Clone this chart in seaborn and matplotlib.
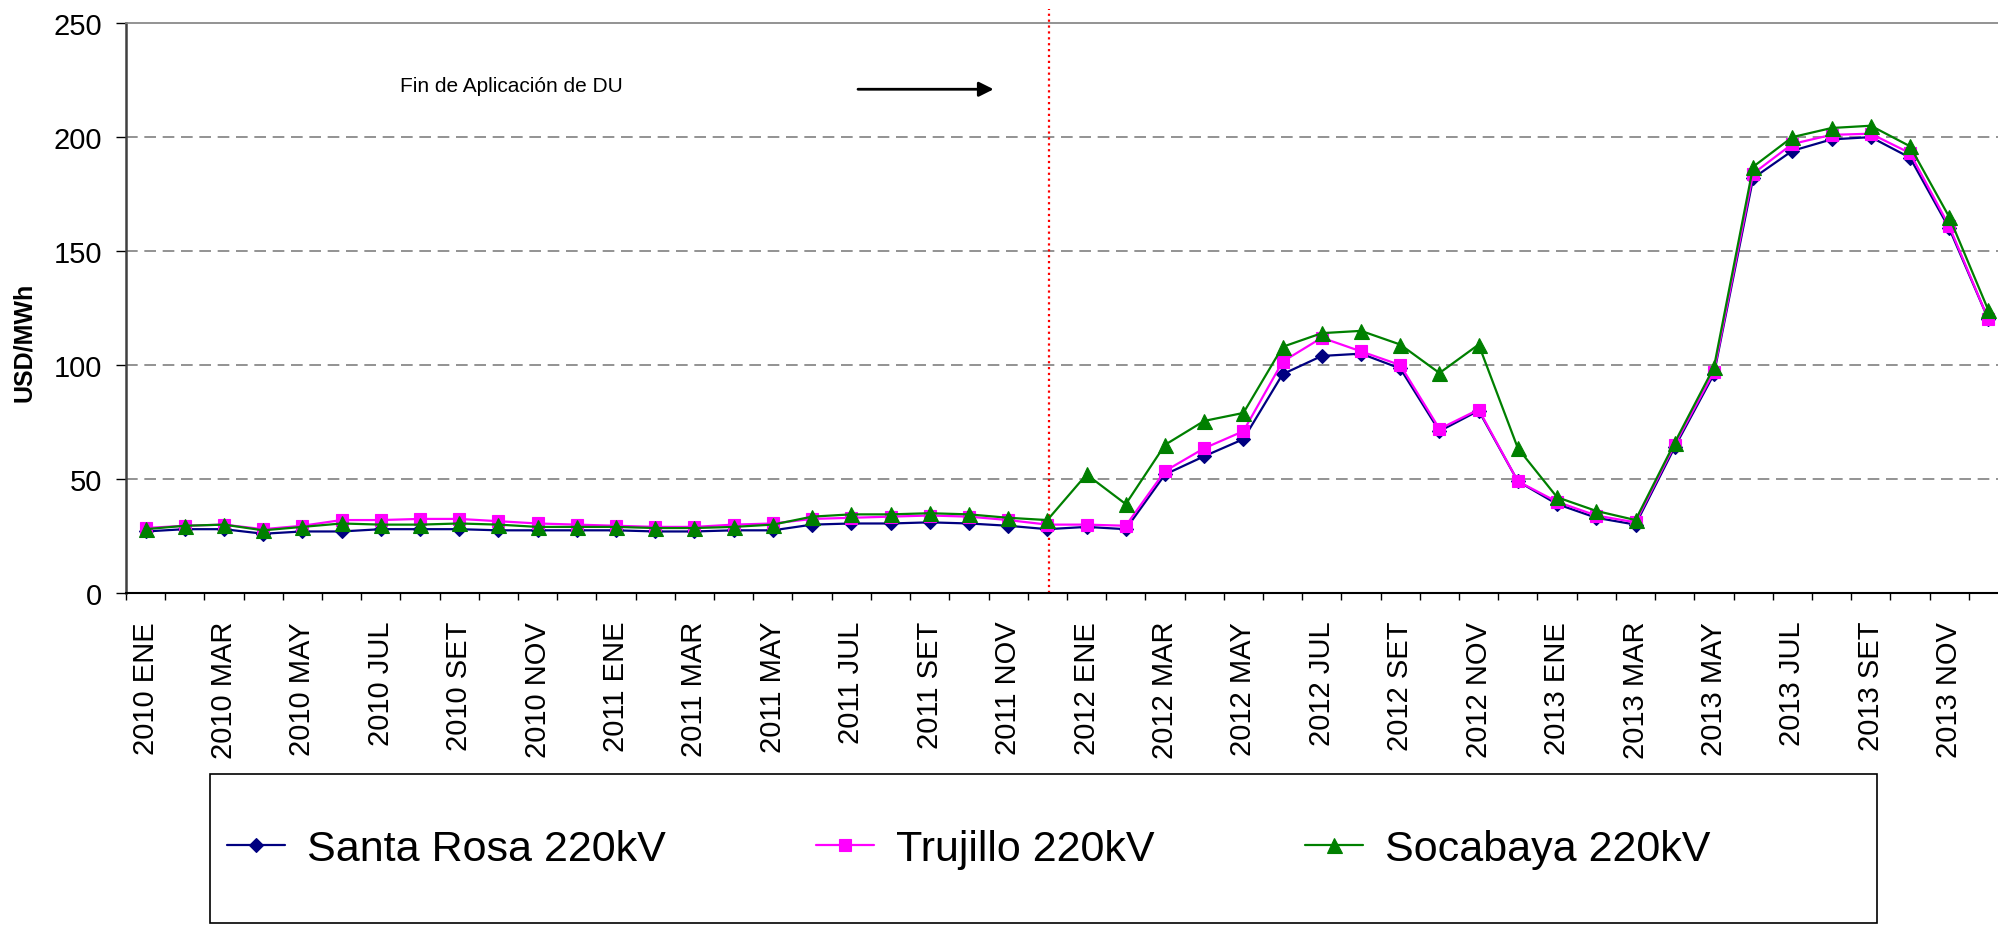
import numpy as np
import pandas as pd
import matplotlib
matplotlib.use("Agg")
import matplotlib.pyplot as plt
import matplotlib.patches as mpatches
import seaborn as sns

# -------------------------------
# Data (USD/MWh, monthly 2010-2013)
# -------------------------------
years = ["2010", "2011", "2012", "2013"]
months = ["ENE", "FEB", "MAR", "ABR", "MAY", "JUN",
          "JUL", "AGO", "SET", "OCT", "NOV", "DIC"]
periods = [f"{y} {m}" for y in years for m in months]

santa_rosa = [27, 28, 28, 26, 27, 27, 28, 28, 28, 27.5, 27.5, 27.5,
              27.5, 27, 27, 27.5, 27.5, 30, 30.5, 30.5, 31, 30.5, 29.5, 28,
              29, 28, 52, 60, 67.5, 96, 104, 105, 98.5, 71, 80, 49,
              39, 33, 30, 64, 96, 182, 194, 199, 200, 191, 160, 120]
trujillo = [28.5, 29.5, 30, 28, 29.5, 32, 32, 32.5, 32.5, 31.5, 30.5, 30,
            29.5, 29, 29, 30, 30.5, 32.5, 33, 33.5, 34, 33.5, 32, 30,
            30, 29.5, 53.5, 63.5, 71, 101.5, 112, 106, 100, 72, 80.5, 49,
            40, 34, 31, 65, 97, 184, 197, 201, 201.5, 193, 161, 120]
socabaya = [28, 29.5, 30, 27.5, 29, 30.5, 30, 30, 30.5, 30, 29, 29,
            29, 28.5, 28.5, 29, 30, 33.5, 34.5, 34.5, 35, 34.5, 33, 32,
            52, 39, 65, 75.5, 79, 108, 114, 115, 109, 96.5, 109, 63.5,
            42, 36, 32, 66, 99, 187, 200, 204, 205, 196, 165, 124]

series_names = ["Santa Rosa 220kV", "Trujillo 220kV", "Socabaya 220kV"]
series_vals = [santa_rosa, trujillo, socabaya]

fin_du_pos = 23.05
note_text = "Fin de Aplicación de DU"

# -------------------------------
# Style
# -------------------------------
sns.set_style("white")
plt.rcParams["font.family"] = ["Liberation Sans", "DejaVu Sans"]
plt.rcParams.update({"text.color": "black", "axes.labelcolor": "black",
                     "xtick.color": "black", "ytick.color": "black"})

colors = ["#000080", "#FF00FF", "#008000"]
markers = ["D", "s", "^"]
msizes = [7.2, 9, 10.8]

fig = plt.figure(figsize=(19.99, 9.29), dpi=100)
ax = fig.add_axes([0.063, 0.3606, 0.9415, 0.6134])

x = np.arange(len(periods))
for name, vals, c, m, ms in zip(series_names, series_vals, colors, markers, msizes):
    df = pd.DataFrame({"idx": x, "valor": vals})
    sns.lineplot(data=df, x="idx", y="valor", ax=ax, color=c, marker=m,
                 markersize=ms, markeredgecolor=c, markeredgewidth=0.8,
                 linewidth=1.6, label=name, zorder=3)

handles, labels = ax.get_legend_handles_labels()
if ax.get_legend() is not None:
    ax.get_legend().remove()

# axes limits / grid
ax.set_xlim(-0.5, len(periods) - 0.5)
ax.set_ylim(0, 250)
ax.set_yticks([0, 50, 100, 150, 200, 250])
for v in [50, 100, 150, 200]:
    ax.axhline(v, color="#808080", lw=1.2, ls=(0, (7, 4)), zorder=1)

# x ticks: labels every 2 months, tick marks at month boundaries
ax.set_xticks(x[::2])
ax.set_xticklabels(periods[::2], rotation=90, ha="center", va="top")
ax.set_xticks(np.arange(-0.5, len(periods), 1), minor=True)
ax.tick_params(axis="x", which="major", length=0, pad=20, labelsize=21,
               labelcolor="black")
ax.tick_params(axis="x", which="minor", length=5, width=1, color="black",
               direction="out", bottom=True)
ax.tick_params(axis="y", length=7, width=1, direction="out", left=True,
               labelsize=21, pad=10, color="black", labelcolor="black")

ax.set_xlabel("")
ax.set_ylabel("USD/MWh", fontsize=18, fontweight="bold", color="black")
ax.yaxis.set_label_coords(-0.048, 0.442)

ax.spines["right"].set_visible(False)
ax.spines["left"].set_color("#404040")
ax.spines["left"].set_linewidth(1.8)
ax.spines["bottom"].set_color("black")
ax.spines["bottom"].set_linewidth(1.5)
ax.spines["top"].set_color("#808080")
ax.spines["top"].set_linewidth(1.2)

# end of DU marker line, note and arrow
ax.axvline(fin_du_pos, ymin=0, ymax=1.025, color="red", ls=":", lw=1.6,
           clip_on=False, zorder=2)
ax.text(6.5, 222.7, note_text, fontsize=15, ha="left", va="center",
        color="black")
ax.annotate("", xy=(21.7, 221), xytext=(18.1, 221),
            arrowprops=dict(arrowstyle="-|>", color="black", lw=2,
                            mutation_scale=22))

# legend in a box below the chart
fig.add_artist(mpatches.Rectangle((0.105, 0.005), 0.834, 0.161,
                                  transform=fig.transFigure, fill=False,
                                  edgecolor="black", lw=1.2))
leg = fig.legend(handles, labels, loc="center left",
                 bbox_to_anchor=(0.1136, 0.085),
                 bbox_transform=fig.transFigure, ncol=3, frameon=False,
                 fontsize=31, handlelength=1.35, handletextpad=0.5,
                 columnspacing=3.5, borderpad=0, borderaxespad=0)
for t in leg.get_texts():
    t.set_color("black")

fig.savefig("out.png", dpi=100)
